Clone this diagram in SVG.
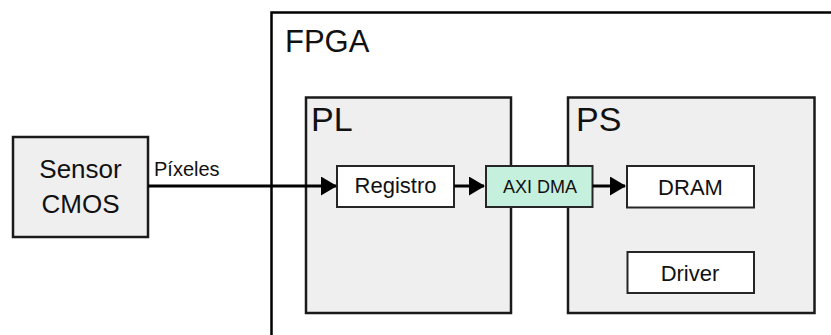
<svg xmlns="http://www.w3.org/2000/svg" width="831" height="335" viewBox="0 0 831 335">
  <style>
    .area { fill: #efefef; stroke: #1a1a1a; stroke-width: 2.5; }
    .block { fill: #ffffff; stroke: #262626; stroke-width: 2; }
    .dma { fill: #c5f0dd; stroke: #262626; stroke-width: 2; }
    .title { font-family: "Liberation Sans", Arial, sans-serif; font-size: 34px; fill: #111; }
    .lbl { font-family: "Liberation Sans", Arial, sans-serif; font-size: 22px; fill: #111; text-anchor: middle; }
    .small { font-family: "Liberation Sans", Arial, sans-serif; font-size: 18px; fill: #111; text-anchor: middle; }
    .big { font-family: "Liberation Sans", Arial, sans-serif; font-size: 26px; fill: #111; text-anchor: middle; }
    .wire { stroke: #000; stroke-width: 3; fill: none; marker-end: url(#head); }
  </style>
  <defs>
    <marker id="head" markerUnits="userSpaceOnUse" markerWidth="16" markerHeight="19" refX="15" refY="9.5" orient="auto">
      <path d="M0,0 L16,9.5 L0,19 Z" fill="#000"/>
    </marker>
  </defs>
  <rect width="831" height="335" fill="#ffffff"/>

  <g id="fpga">
    <rect x="271.5" y="12.5" width="580" height="340" fill="#ffffff" stroke="#000" stroke-width="2.5"/>
    <text class="title" x="285" y="52" style="font-size:31px">FPGA</text>
  </g>

  <g id="pl">
    <rect class="area" x="306" y="97.5" width="205" height="215.5"/>
    <text class="title" x="311" y="131">PL</text>
  </g>

  <g id="ps">
    <rect class="area" x="568" y="97.5" width="246.5" height="215.5"/>
    <text class="title" x="576" y="131">PS</text>
  </g>

  <g id="sensor">
    <rect class="area" x="13" y="137" width="135" height="100"/>
    <text class="big" x="80.5" y="178">Sensor</text>
    <text class="big" x="80.5" y="213">CMOS</text>
  </g>

  <g id="registro">
    <rect class="block" x="337" y="166" width="117" height="41"/>
    <text class="lbl" x="395.5" y="193">Registro</text>
  </g>

  <g id="axi-dma">
    <rect class="dma" x="486" y="166" width="106.5" height="41"/>
    <text class="small" x="540" y="193">AXI DMA</text>
  </g>

  <g id="dram">
    <rect class="block" x="627" y="166" width="127" height="41.5"/>
    <text class="lbl" x="690.5" y="195">DRAM</text>
  </g>

  <g id="driver">
    <rect class="block" x="627.5" y="252" width="126.5" height="41"/>
    <text class="lbl" x="690" y="281">Driver</text>
  </g>

  <g id="connectors">
    <line class="wire" x1="148" y1="186" x2="336" y2="186"/>
    <text class="lbl" x="154" y="176" style="font-size:20px;text-anchor:start">Píxeles</text>
    <line class="wire" x1="454" y1="186" x2="484" y2="186"/>
    <line class="wire" x1="592.5" y1="186" x2="625" y2="186"/>
  </g>
</svg>
